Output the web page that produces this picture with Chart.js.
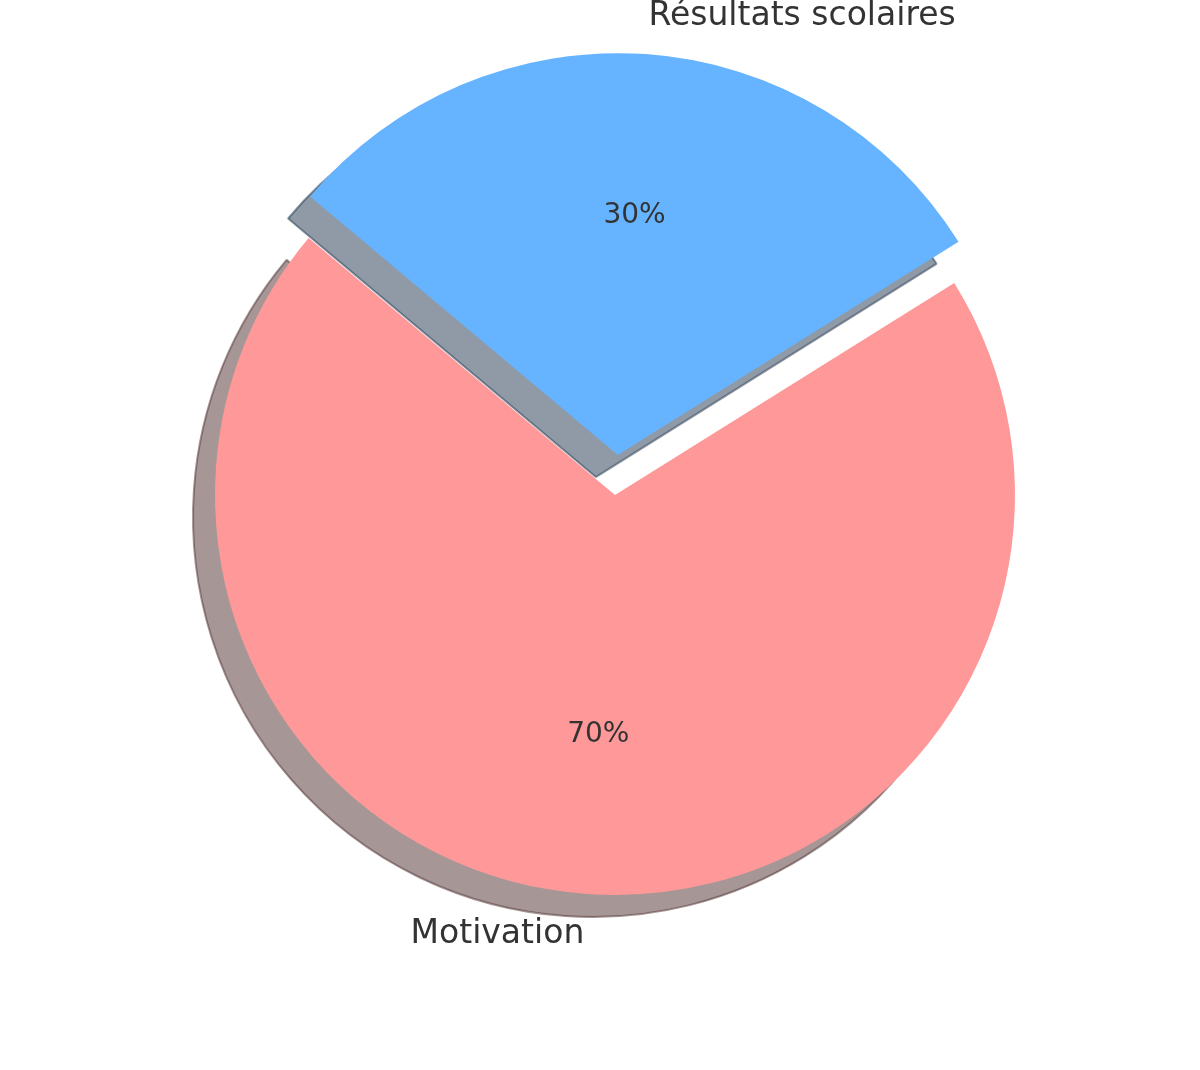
<!DOCTYPE html>
<html>
<head>
<meta charset="utf-8">
<script src="https://cdn.jsdelivr.net/npm/chart.js@4"></script>
<style>
  html, body { margin: 0; padding: 0; background: #fff; }
  #wrap { width: 1200px; height: 1070px; }
</style>
</head>
<body>
<div id="wrap"><canvas id="pieChart"></canvas></div>
<script>
// data
var labels = ['Résultats scolaires', 'Motivation'];
var values = [30, 70];
var colors = ['#66b3ff', '#ff9999'];
var explode = [40, 0]; // visual shift in px (Chart.js draws offset / 4)

// matplotlib-like shadow: 0.3 * face colour, half transparent
var shadowFill = ['rgba(31, 54, 77, 0.5)', 'rgba(77, 46, 46, 0.5)'];
var shadowEdge = ['rgba(31, 54, 77, 0.5)', 'rgba(77, 46, 46, 0.5)'];

var shadowPlugin = {
    id: 'pieShadow',
    beforeDatasetsDraw: function (chart) {
        var ctx = chart.ctx;
        var meta = chart.getDatasetMeta(0);
        meta.data.forEach(function (arc, i) {
            var saved = arc.options;
            arc.options = Object.assign({}, saved, {
                backgroundColor: shadowFill[i],
                borderColor: shadowEdge[i],
                borderWidth: 2
            });
            ctx.save();
            ctx.translate(-22, 22);
            arc.draw(ctx);
            ctx.restore();
            arc.options = saved;
        });
    }
};

var labelPlugin = {
    id: 'pieLabels',
    afterDatasetsDraw: function (chart) {
        var ctx = chart.ctx;
        var meta = chart.getDatasetMeta(0);
        var total = values.reduce(function (a, b) { return a + b; }, 0);
        ctx.save();
        ctx.fillStyle = '#333333';
        meta.data.forEach(function (arc, i) {
            var mid = (arc.startAngle + arc.endAngle) / 2;
            var off = explode[i];
            var cx = arc.x + Math.cos(mid) * off;
            var cy = arc.y + Math.sin(mid) * off;
            var r = arc.outerRadius;

            // category label outside
            var lx = cx + Math.cos(mid) * r * 1.1;
            var ly = cy + Math.sin(mid) * r * 1.1;
            ctx.font = '33px "DejaVu Sans"';
            ctx.textAlign = Math.cos(mid) > 0 ? 'left' : 'right';
            ctx.textBaseline = 'middle';
            ctx.fillText(labels[i], lx, ly);

            // percentage inside
            var px = cx + Math.cos(mid) * r * 0.6;
            var py = cy + Math.sin(mid) * r * 0.6;
            ctx.font = '28px "DejaVu Sans"';
            ctx.textAlign = 'center';
            ctx.fillText(Math.round(values[i] / total * 100) + '%', px, py);
        });
        ctx.restore();
    }
};

var ctx = document.getElementById('pieChart').getContext('2d');
var myChart = new Chart(ctx, {
    type: 'pie',
    data: {
        labels: labels,
        datasets: [{
            data: values,
            backgroundColor: colors,
            borderWidth: 0,
            offset: explode.map(function (e) { return e * 4; }),
            hoverOffset: 0
        }]
    },
    options: {
        responsive: true,
        maintainAspectRatio: false,
        animation: false,
        rotation: -50,
        radius: 400,
        layout: { padding: { left: 30, right: 0, top: 0, bottom: 80 } },
        plugins: {
            legend: { display: false },
            tooltip: { enabled: false }
        }
    },
    plugins: [shadowPlugin, labelPlugin]
});
</script>
</body>
</html>
